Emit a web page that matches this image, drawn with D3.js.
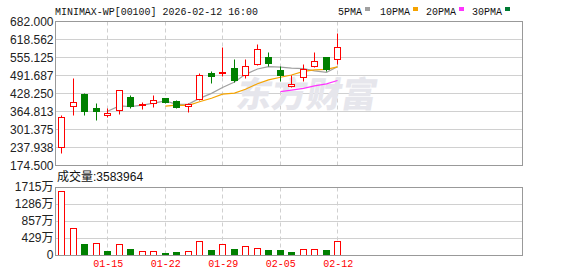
<!DOCTYPE html>
<html>
<head>
<meta charset="utf-8">
<script src="https://cdn.jsdelivr.net/npm/d3@7"></script>
<style>
  body { margin: 0; background: #fff; }
  svg { display: block; }
</style>
</head>
<body>
<div id="chart"></div>
<script>
// daily data
var dates = ["01-09", "01-12", "01-13", "01-14", "01-15", "01-16", "01-19", "01-20", "01-21", "01-22",
  "01-23", "01-26", "01-27", "01-28", "01-29", "01-30", "02-02", "02-03", "02-04", "02-05",
  "02-06", "02-09", "02-10", "02-11", "02-12"];
var opens = [237.0, 381.4, 424.7, 375.4, 351.8, 367.3, 413.1, 384.9, 392.0, 409.6,
  400.1, 381.4, 408.2, 497.7, 497.7, 515.3, 490.6, 529.4, 554.1, 509.3,
  451.9, 483.6, 522.4, 555.1, 547.0];
var closes = [342.6, 395.5, 365.9, 366.5, 357.8, 437.8, 383.5, 389.5, 402.5, 396.6,
  377.9, 388.5, 490.0, 489.5, 502.3, 474.1, 523.4, 582.3, 535.0, 490.6,
  458.9, 513.9, 540.0, 511.8, 589.3];
var highs = [349.7, 480.0, 428.3, 393.0, 374.4, 437.8, 420.2, 396.6, 420.2, 411.7,
  403.6, 392.0, 497.7, 506.9, 591.4, 547.0, 547.0, 601.0, 572.8, 523.4,
  491.7, 530.5, 572.8, 555.1, 640.8];
var lows = [218.0, 351.8, 351.8, 334.2, 344.7, 353.2, 376.5, 371.9, 380.0, 393.0,
  374.4, 362.4, 403.6, 464.6, 488.2, 467.0, 480.1, 525.9, 523.4, 471.6,
  449.4, 469.5, 519.9, 504.7, 529.4];
var volumes = [16140000, 6730000, 2850000, 3030000, 1090000, 2770000, 1510000, 1010000, 1010000, 590000,
  840000, 1010000, 3530000, 1260000, 2770000, 1510000, 2270000, 1770000, 1260000, 1260000,
  840000, 1510000, 1510000, 1340000, 3583964];

// moving averages as drawn (null = not yet drawn)
var ma5 = [null, null, null, null, 365.6, 384.7, 382.3, 387.1, 394.3, 402.0,
  390.0, 391.0, 411.1, 428.6, 449.6, 468.8, 495.8, 514.6, 523.2, 521.1,
  518.0, 516.1, 507.7, 503.0, 522.8];
var ma10 = [null, null, null, null, null, null, null, null, null, 383.8,
  387.4, 386.7, 399.1, 411.4, 425.8, 429.4, 443.4, 462.7, 476.0, 485.4,
  493.5, 506.0, 511.2, 513.2, 521.9];
var ma20 = [null, null, null, null, null, null, null, null, null, null,
  null, null, null, null, null, null, null, null, null, 434.6,
  440.4, 446.3, 455.0, 462.3, 473.9];

var priceTicks = [174.5, 237.938, 301.375, 364.813, 428.25, 491.687, 555.125, 618.562, 682];
var priceTickLabels = ["174.500", "237.938", "301.375", "364.813", "428.250", "491.687", "555.125", "618.562", "682.000"];
var volTicks = [0, 4287000, 8574000, 12861000, 17148000];
var dateTicks = ["01-15", "01-22", "01-29", "02-05", "02-12"];

var legendNames = ["5PMA", "10PMA", "20PMA", "30PMA"];
var legendColors = ["#a0a0a0", "#f5a300", "#ff33ff", "#007a33"];

var UP = "#ff0000";
var DOWN = "#008000";
var GRID = "#d0d0d0";
var BORDER = "#999999";

var width = 578, height = 276;
var left = 55.5, right = 522.5;
var pTop = 21.5, pBottom = 165.5;
var vTop = 187.5, vBottom = 255.5;

var svg = d3.select("#chart")
  .append("svg")
  .attr("width", width)
  .attr("height", height)
  .style("font-family", "'Liberation Sans', Arial, sans-serif");

// scales
var x = d3.scaleBand().domain(dates).range([56, 56 + dates.length * 11.5]);
var cx = function (d) { return Math.floor(x(d) + x.bandwidth() / 2) + 0.5; };
var y = d3.scaleLinear().domain([174.5, 682]).range([pBottom, pTop]);
var yv = d3.scaleLinear().domain([0, 17148000]).range([vBottom, vTop]);
var py = function (v) { return Math.round(y(v) - 0.5) + 0.5; };

// title + legend
svg.append("text")
  .attr("x", 55)
  .attr("y", 15)
  .attr("textLength", 203)
  .attr("lengthAdjust", "spacingAndGlyphs")
  .style("font-family", "'Liberation Mono', 'DejaVu Sans Mono', monospace")
  .style("font-size", "11px")
  .style("fill", "#111")
  .text("MINIMAX-WP[00100] 2026-02-12 16:00");

var legendX = [338, 380, 426, 472];
legendNames.forEach(function (name, i) {
  var w = name.length * 6;
  svg.append("text")
    .attr("x", legendX[i])
    .attr("y", 15)
    .attr("textLength", w)
    .attr("lengthAdjust", "spacingAndGlyphs")
    .style("font-family", "'Liberation Mono', 'DejaVu Sans Mono', monospace")
    .style("font-size", "11px")
    .style("fill", "#111")
    .text(name);
  svg.append("rect")
    .attr("x", legendX[i] + w + 3)
    .attr("y", 7)
    .attr("width", 5)
    .attr("height", 4)
    .attr("fill", legendColors[i]);
});

// grid lines
var grid = svg.append("g");
grid.selectAll(".hp")
  .data(priceTicks.slice(1, -1))
  .enter()
  .append("line")
  .attr("x1", left).attr("x2", right)
  .attr("y1", function (d) { return py(d); })
  .attr("y2", function (d) { return py(d); })
  .attr("stroke", GRID);

grid.selectAll(".hv")
  .data(volTicks.slice(1, -1))
  .enter()
  .append("line")
  .attr("x1", left).attr("x2", right)
  .attr("y1", function (d) { return Math.round(yv(d) - 0.5) + 0.5; })
  .attr("y2", function (d) { return Math.round(yv(d) - 0.5) + 0.5; })
  .attr("stroke", GRID);

[[pTop, pBottom], [vTop, vBottom]].forEach(function (p) {
  grid.selectAll(null)
    .data(dateTicks)
    .enter()
    .append("line")
    .attr("x1", cx).attr("x2", cx)
    .attr("y1", p[0]).attr("y2", p[1])
    .attr("stroke", GRID)
    .attr("stroke-dasharray", "4,3");
});

// watermark
svg.append("text")
  .attr("x", 236)
  .attr("y", 107)
  .attr("transform", "skewX(-10) translate(18,0)")
  .style("font-family", "'Noto Sans CJK SC', sans-serif")
  .style("font-size", "35px")
  .style("font-weight", "900")
  .style("fill", "#e6e6ec")
  .text("东方财富");

// moving average lines
var maLine = d3.line()
  .defined(function (d) { return d.v != null; })
  .x(function (d) { return cx(d.date); })
  .y(function (d) { return y(d.v); });

[ma5, ma10, ma20].forEach(function (arr, i) {
  svg.append("path")
    .datum(dates.map(function (dt, j) { return { date: dt, v: arr[j] }; }))
    .attr("d", maLine)
    .attr("fill", "none")
    .attr("stroke", legendColors[i])
    .attr("stroke-width", 1.2);
});

// candles
var candles = dates.map(function (dt, i) {
  return { date: dt, o: opens[i], c: closes[i], h: highs[i], l: lows[i], v: volumes[i],
    volUp: i === 0 ? closes[i] >= opens[i] : closes[i] >= closes[i - 1] };
});

var candle = svg.selectAll(".candle")
  .data(candles)
  .enter()
  .append("g")
  .attr("class", "candle");

candle.append("line")
  .attr("x1", function (d) { return cx(d.date); })
  .attr("x2", function (d) { return cx(d.date); })
  .attr("y1", function (d) { return py(d.h); })
  .attr("y2", function (d) { return py(d.l); })
  .attr("stroke", function (d) { return d.c >= d.o ? UP : DOWN; });

candle.append("rect")
  .attr("x", function (d) { return cx(d.date) - 3; })
  .attr("y", function (d) { return py(Math.max(d.o, d.c)); })
  .attr("width", 6)
  .attr("height", function (d) { return Math.max(1, py(Math.min(d.o, d.c)) - py(Math.max(d.o, d.c))); })
  .attr("fill", function (d) { return d.c >= d.o ? "#fff" : DOWN; })
  .attr("stroke", function (d) { return d.c >= d.o ? UP : DOWN; });

// volume bars
svg.selectAll(".vol")
  .data(candles)
  .enter()
  .append("rect")
  .attr("class", "vol")
  .attr("x", function (d) { return cx(d.date) - 3; })
  .attr("y", function (d) { return Math.round(yv(d.v) - 0.5) + 0.5; })
  .attr("width", 6)
  .attr("height", function (d) { return vBottom - (Math.round(yv(d.v) - 0.5) + 0.5); })
  .attr("fill", function (d) { return d.volUp ? "#fff" : DOWN; })
  .attr("stroke", function (d) { return d.volUp ? UP : DOWN; });

// panel borders
[[pTop, pBottom], [vTop, vBottom]].forEach(function (p) {
  svg.append("rect")
    .attr("x", left).attr("y", p[0])
    .attr("width", right - left).attr("height", p[1] - p[0])
    .attr("fill", "none")
    .attr("stroke", BORDER);
});

// price axis
var yAxis = d3.axisLeft(y)
  .tickValues(priceTicks)
  .tickSize(0)
  .tickPadding(2)
  .tickFormat(function (d, i) { return priceTickLabels[i]; });

svg.append("g")
  .attr("transform", "translate(" + left + ",0)")
  .call(yAxis)
  .call(function (g) { g.select(".domain").remove(); })
  .selectAll("text")
  .style("font-family", "'Liberation Sans', Arial, sans-serif")
  .style("font-size", "12px")
  .style("fill", "#222");

// volume axis
var vAxis = d3.axisLeft(yv)
  .tickValues(volTicks)
  .tickSize(0)
  .tickPadding(2)
  .tickFormat(function (d) { return d === 0 ? "0" : Math.round(d / 10000) + "万"; });

svg.append("g")
  .attr("transform", "translate(" + left + ",-1)")
  .call(vAxis)
  .call(function (g) { g.select(".domain").remove(); })
  .selectAll("text")
  .style("font-family", "'Liberation Sans', 'Noto Sans CJK SC', sans-serif")
  .style("font-size", "12px")
  .style("fill", "#222");

// date axis
var xAxis = d3.axisBottom(x)
  .tickValues(dateTicks)
  .tickSize(0)
  .tickPadding(4);

svg.append("g")
  .attr("transform", "translate(0," + vBottom + ")")
  .call(xAxis)
  .call(function (g) { g.select(".domain").remove(); })
  .selectAll("text")
  .attr("x", 0.5)
  .style("font-family", "'Liberation Mono', 'DejaVu Sans Mono', monospace")
  .style("font-size", "10px")
  .style("fill", UP);

// volume header
svg.append("text")
  .attr("x", 57)
  .attr("y", 181)
  .style("font-family", "'Liberation Sans', 'Noto Sans CJK SC', sans-serif")
  .style("font-size", "12px")
  .style("fill", "#111")
  .text("成交量:" + volumes[volumes.length - 1]);
</script>
</body>
</html>
